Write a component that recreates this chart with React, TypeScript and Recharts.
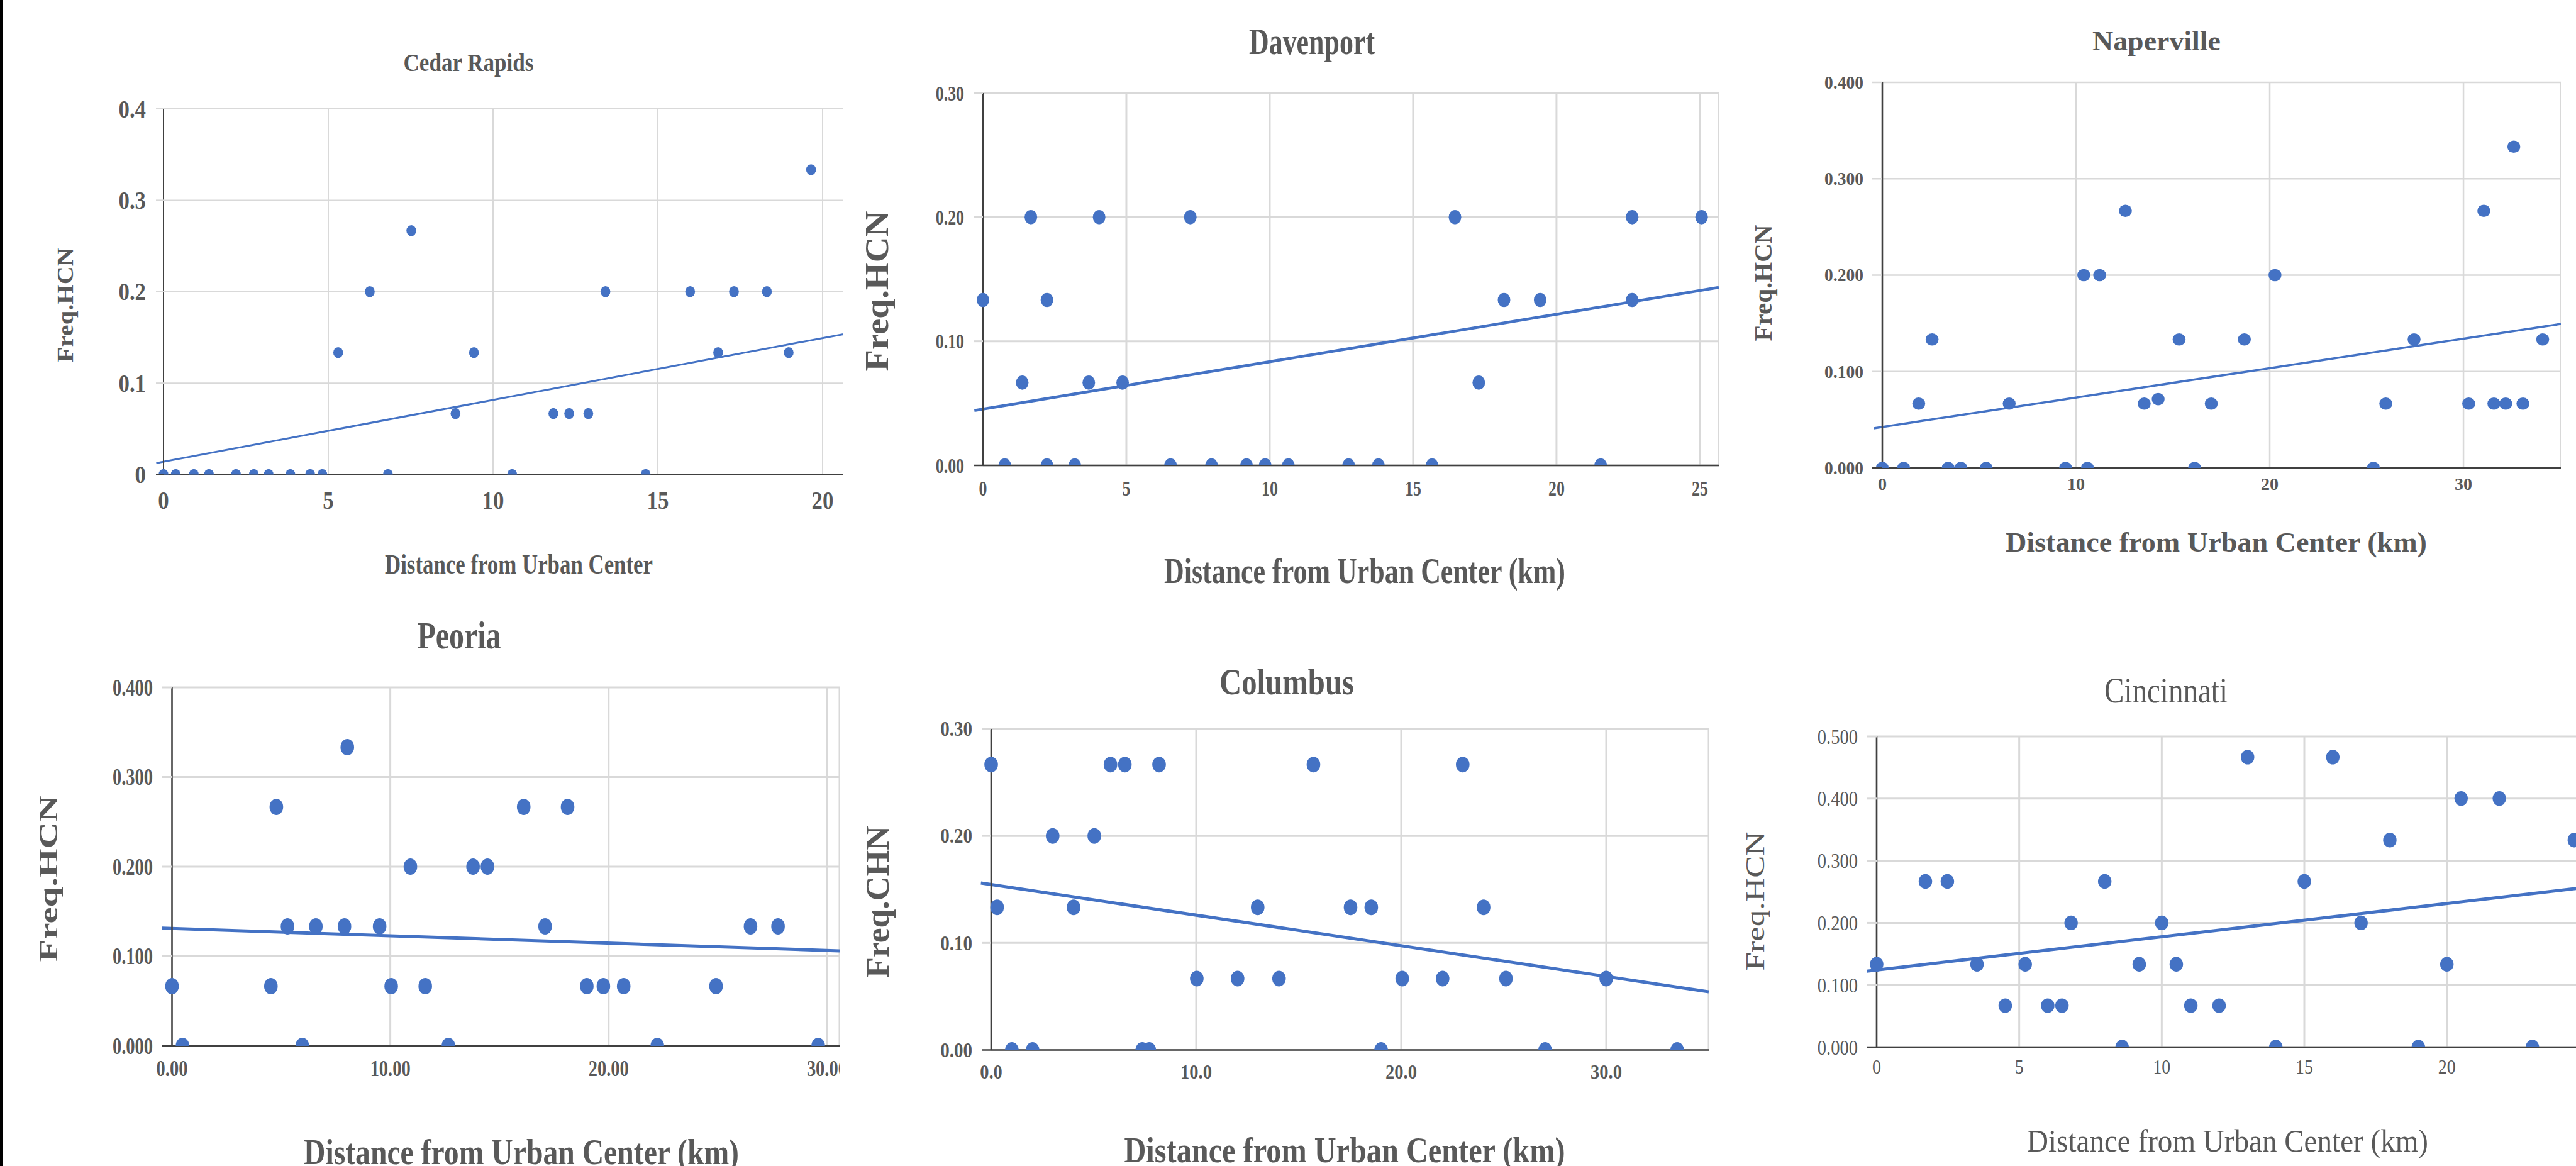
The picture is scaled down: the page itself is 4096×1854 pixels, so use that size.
import React from 'react';
import { ScatterChart, Scatter, XAxis, YAxis, CartesianGrid, ReferenceLine } from 'recharts';

// ---------------- DATA ----------------
const cedarDist = [0, 0.37, 0.92, 1.38, 2.2, 2.74, 3.19, 3.85, 4.45, 4.82, 5.3, 6.26, 6.81, 7.52, 8.86, 9.42, 10.58, 11.83, 12.31, 12.89, 13.41, 14.63, 15.98, 16.83, 17.31, 18.31, 18.97, 19.65];
const cedarFreq = [0, 0, 0, 0, 0, 0, 0, 0, 0, 0, 0.1333, 0.2, 0, 0.2667, 0.0667, 0.1333, 0, 0.0667, 0.0667, 0.0667, 0.2, 0, 0.2, 0.1333, 0.2, 0.2, 0.1333, 0.3333];
const cedarTrend = [{ x: -0.22, y: 0.0125 }, { x: 20.63, y: 0.1535 }];
const cedarXTicks = [0, 5, 10, 15, 20];
const cedarXLabels = ['0', '5', '10', '15', '20'];
const cedarYTicks = [0, 0.1, 0.2, 0.3, 0.4];
const cedarYLabels = ['0', '0.1', '0.2', '0.3', '0.4'];

const davDist = [0, 0.76, 1.37, 1.67, 2.23, 2.23, 3.2, 3.69, 4.05, 4.87, 6.54, 7.23, 7.97, 9.19, 9.84, 10.65, 12.75, 13.79, 15.66, 16.46, 17.29, 18.17, 19.43, 21.54, 22.64, 22.64, 25.06];
const davFreq = [0.1333, 0, 0.0667, 0.2, 0.1333, 0, 0, 0.0667, 0.2, 0.0667, 0, 0.2, 0, 0, 0, 0, 0, 0, 0, 0.2, 0.0667, 0.1333, 0.1333, 0, 0.2, 0.1333, 0.2];
const davTrend = [{ x: -0.3, y: 0.0442 }, { x: 25.66, y: 0.1434 }];
const davXTicks = [0, 5, 10, 15, 20, 25];
const davXLabels = ['0', '5', '10', '15', '20', '25'];
const davYTicks = [0, 0.1, 0.2, 0.3];
const davYLabels = ['0.00', '0.10', '0.20', '0.30'];

const napDist = [0, 1.1, 1.88, 2.57, 3.4, 4.06, 5.36, 6.55, 9.46, 10.4, 10.59, 11.22, 12.55, 13.52, 14.24, 15.32, 16.12, 16.98, 18.69, 20.27, 25.35, 25.99, 27.45, 30.27, 31.05, 31.57, 32.18, 32.6, 33.07, 34.09];
const napFreq = [0, 0, 0.0667, 0.1333, 0, 0, 0, 0.0667, 0, 0.2, 0, 0.2, 0.2667, 0.0667, 0.0714, 0.1333, 0, 0.0667, 0.1333, 0.2, 0, 0.0667, 0.1333, 0.0667, 0.2667, 0.0667, 0.0667, 0.3333, 0.0667, 0.1333];
const napTrend = [{ x: -0.44, y: 0.0411 }, { x: 35.03, y: 0.1494 }];
const napXTicks = [0, 10, 20, 30];
const napXLabels = ['0', '10', '20', '30'];
const napYTicks = [0, 0.1, 0.2, 0.3, 0.4];
const napYLabels = ['0.000', '0.100', '0.200', '0.300', '0.400'];

const peoDist = [0, 0.48, 4.53, 4.78, 5.29, 5.97, 6.59, 7.9, 8.03, 9.51, 10.04, 10.92, 11.6, 12.66, 13.79, 14.45, 16.11, 17.09, 18.12, 19.0, 19.76, 20.69, 22.23, 24.92, 26.5, 27.76, 29.6];
const peoFreq = [0.0667, 0, 0.0667, 0.2667, 0.1333, 0, 0.1333, 0.1333, 0.3333, 0.1333, 0.0667, 0.2, 0.0667, 0, 0.2, 0.2, 0.2667, 0.1333, 0.2667, 0.0667, 0.0667, 0.0667, 0, 0.0667, 0.1333, 0.1333, 0];
const peoTrend = [{ x: -0.45, y: 0.1314 }, { x: 30.58, y: 0.106 }];
const peoXTicks = [0, 10, 20, 30];
const peoXLabels = ['0.00', '10.00', '20.00', '30.00'];
const peoYTicks = [0, 0.1, 0.2, 0.3, 0.4];
const peoYLabels = ['0.000', '0.100', '0.200', '0.300', '0.400'];

const colDist = [0, 0.29, 1.01, 2.02, 3.0, 4.02, 5.03, 5.82, 6.52, 7.37, 7.71, 8.19, 10.03, 12.02, 13.0, 14.04, 15.72, 17.53, 18.54, 19.02, 20.05, 22.02, 23.0, 24.02, 25.11, 27.02, 30.0, 33.46];
const colFreq = [0.2667, 0.1333, 0, 0, 0.2, 0.1333, 0.2, 0.2667, 0.2667, 0, 0, 0.2667, 0.0667, 0.0667, 0.1333, 0.0667, 0.2667, 0.1333, 0.1333, 0, 0.0667, 0.0667, 0.2667, 0.1333, 0.0667, 0, 0.0667, 0];
const colTrend = [{ x: -0.5, y: 0.156 }, { x: 35.0, y: 0.0544 }];
const colXTicks = [0, 10, 20, 30];
const colXLabels = ['0.0', '10.0', '20.0', '30.0'];
const colYTicks = [0, 0.1, 0.2, 0.3];
const colYLabels = ['0.00', '0.10', '0.20', '0.30'];

const cinDist = [0, 1.71, 2.48, 3.52, 4.51, 5.21, 6.0, 6.5, 6.82, 8.0, 8.61, 9.21, 10.0, 10.51, 11.02, 12.01, 13.01, 14.0, 15.0, 16.0, 16.99, 18.0, 19.0, 20.0, 20.5, 21.84, 23.0, 24.47];
const cinFreq = [0.1333, 0.2667, 0.2667, 0.1333, 0.0667, 0.1333, 0.0667, 0.0667, 0.2, 0.2667, 0, 0.1333, 0.2, 0.1333, 0.0667, 0.0667, 0.4667, 0, 0.2667, 0.4667, 0.2, 0.3333, 0, 0.1333, 0.4, 0.4, 0, 0.3333];
const cinTrend = [{ x: -0.34, y: 0.1223 }, { x: 25.5, y: 0.2605 }];
const cinXTicks = [0, 5, 10, 15, 20];
const cinXLabels = ['0', '5', '10', '15', '20'];
const cinYTicks = [0, 0.1, 0.2, 0.3, 0.4, 0.5];
const cinYLabels = ['0.000', '0.100', '0.200', '0.300', '0.400', '0.500'];

// ---------------- STYLE ----------------
const BLUE = '#4472C4';
const GRID = '#D9D9D9';
const AXIS = '#404040';
const TEXT = '#595959';
const SERIF = '"Liberation Serif", "Times New Roman", Times, serif';

type Pt = { x: number; y: number };
const zip = (xs: number[], ys: number[]): Pt[] => xs.map((x, i) => ({ x, y: ys[i] }));

type HText = { text: string; cx: number; base: number; size: number; width: number };
type VText = { text: string; capTop: number; cy: number; size: number; length: number };

type Panel = {
  points: Pt[];
  trend: Pt[];
  xTicks: number[]; xLabels: string[];
  yTicks: number[]; yLabels: string[];
  xMax: number; yMax: number;
  clip: { left: number; top: number; width: number; height: number };
  plot: { left: number; top: number; right: number; bottom: number };
  ext: number;
  weight: number;
  yFont: number; yScale: number; yRight: number;
  xFont: number; xScale: number; xTop: number;
  rx: number; ry: number;
  trendW: number; axisW: number; gridW: number;
  title: HText; xTitle: HText; yTitle: VText;
};

const panels: Panel[] = [
  {
    points: zip(cedarDist, cedarFreq), trend: cedarTrend,
    xTicks: cedarXTicks, xLabels: cedarXLabels, yTicks: cedarYTicks, yLabels: cedarYLabels,
    xMax: 20.63, yMax: 0.4,
    clip: { left: 6, top: 0, width: 1344, height: 950 },
    plot: { left: 260, top: 173, right: 1341, bottom: 754.5 },
    ext: 12, weight: 700,
    yFont: 40, yScale: 0.87, yRight: 232,
    xFont: 40, xScale: 0.87, xTop: 782,
    rx: 7.8, ry: 8.7, trendW: 3, axisW: 2, gridW: 2,
    title: { text: 'Cedar Rapids', cx: 745, base: 113, size: 40, width: 207 },
    xTitle: { text: 'Distance from Urban Center', cx: 825, base: 912, size: 45, width: 426 },
    yTitle: { text: 'Freq.HCN', capTop: 92, cy: 485, size: 36, length: 182 },
  },
  {
    points: zip(davDist, davFreq), trend: davTrend,
    xTicks: davXTicks, xLabels: davXLabels, yTicks: davYTicks, yLabels: davYLabels,
    xMax: 25.66, yMax: 0.3,
    clip: { left: 1350, top: 0, width: 1400, height: 950 },
    plot: { left: 1563, top: 148, right: 2733, bottom: 740 },
    ext: 15, weight: 700,
    yFont: 34, yScale: 0.76, yRight: 1533,
    xFont: 34, xScale: 0.76, xTop: 765,
    rx: 10, ry: 11.3, trendW: 4.5, axisW: 2.5, gridW: 3,
    title: { text: 'Davenport', cx: 2086, base: 86, size: 60, width: 200 },
    xTitle: { text: 'Distance from Urban Center (km)', cx: 2170, base: 927, size: 58, width: 638 },
    yTitle: { text: 'Freq.HCN', capTop: 1378, cy: 463, size: 52, length: 255 },
  },
  {
    points: zip(napDist, napFreq), trend: napTrend,
    xTicks: napXTicks, xLabels: napXLabels, yTicks: napYTicks, yLabels: napYLabels,
    xMax: 35.03, yMax: 0.4,
    clip: { left: 2760, top: 0, width: 1336, height: 950 },
    plot: { left: 2993, top: 131, right: 4072, bottom: 744 },
    ext: 16, weight: 700,
    yFont: 29, yScale: 0.95, yRight: 2963,
    xFont: 28, xScale: 1.0, xTop: 760,
    rx: 10.3, ry: 9.8, trendW: 3.5, axisW: 2.5, gridW: 2.5,
    title: { text: 'Naperville', cx: 3429, base: 80, size: 44, width: 204 },
    xTitle: { text: 'Distance from Urban Center (km)', cx: 3524, base: 877, size: 44, width: 670 },
    yTitle: { text: 'Freq.HCN', capTop: 2790, cy: 450, size: 41, length: 185 },
  },
  {
    points: zip(peoDist, peoFreq), trend: peoTrend,
    xTicks: peoXTicks, xLabels: peoXLabels, yTicks: peoYTicks, yLabels: peoYLabels,
    xMax: 30.58, yMax: 0.4,
    clip: { left: 6, top: 950, width: 1330, height: 904 },
    plot: { left: 273.5, top: 1093, right: 1335, bottom: 1663 },
    ext: 16, weight: 700,
    yFont: 38, yScale: 0.75, yRight: 243,
    xFont: 36, xScale: 0.79, xTop: 1687,
    rx: 10.8, ry: 13, trendW: 5, axisW: 2.5, gridW: 3,
    title: { text: 'Peoria', cx: 730, base: 1031, size: 62, width: 133 },
    xTitle: { text: 'Distance from Urban Center (km)', cx: 829, base: 1851, size: 58, width: 692 },
    yTitle: { text: 'Freq.HCN', capTop: 63, cy: 1397, size: 42, length: 265 },
  },
  {
    points: zip(colDist, colFreq), trend: colTrend,
    xTicks: colXTicks, xLabels: colXLabels, yTicks: colYTicks, yLabels: colYLabels,
    xMax: 35.0, yMax: 0.3,
    clip: { left: 1350, top: 950, width: 1390, height: 904 },
    plot: { left: 1576, top: 1159, right: 2717, bottom: 1669.5 },
    ext: 14, weight: 700,
    yFont: 33, yScale: 0.88, yRight: 1546,
    xFont: 32, xScale: 0.89, xTop: 1693,
    rx: 10.8, ry: 12.5, trendW: 5, axisW: 2.5, gridW: 3,
    title: { text: 'Columbus', cx: 2046, base: 1104, size: 59, width: 214 },
    xTitle: { text: 'Distance from Urban Center (km)', cx: 2138, base: 1848, size: 58, width: 701 },
    yTitle: { text: 'Freq.CHN', capTop: 1378, cy: 1434, size: 53, length: 242 },
  },
  {
    points: zip(cinDist, cinFreq), trend: cinTrend,
    xTicks: cinXTicks, xLabels: cinXLabels, yTicks: cinYTicks, yLabels: cinYLabels,
    xMax: 25.5, yMax: 0.5,
    clip: { left: 2760, top: 950, width: 1336, height: 904 },
    plot: { left: 2984, top: 1171, right: 4140, bottom: 1665 },
    ext: 15, weight: 400,
    yFont: 34, yScale: 0.84, yRight: 2954,
    xFont: 31, xScale: 0.9, xTop: 1686,
    rx: 10.7, ry: 11.7, trendW: 5, axisW: 2.5, gridW: 3,
    title: { text: 'Cincinnati', cx: 3444, base: 1117, size: 57, width: 196 },
    xTitle: { text: 'Distance from Urban Center (km)', cx: 3542, base: 1831, size: 51, width: 638 },
    yTitle: { text: 'Freq.HCN', capTop: 2777, cy: 1433, size: 43, length: 221 },
  },
];

const labelFor = (ticks: number[], labels: string[], v: number) => {
  const i = ticks.findIndex((t) => Math.abs(t - v) < 1e-9);
  return i >= 0 ? labels[i] : String(v);
};

function ChartPanel({ c }: { c: Panel }) {
  const W = c.plot.right - c.clip.left;
  const plotTop = c.plot.top - c.clip.top;
  const plotBottom = c.plot.bottom - c.clip.top;
  const XH = 130;
  const H = plotBottom + XH;
  const yAxisW = c.plot.left - c.clip.left;
  const axisX = yAxisW;

  const dotShape = (props: any) => {
    const { cx, cy } = props;
    if (cx == null || cy == null) return <g />;
    const yv = props.payload ? props.payload.y : props.y;
    if (yv === 0) {
      return (
        <path
          d={`M${cx - c.rx},${cy} A${c.rx},${c.ry} 0 0 1 ${cx + c.rx},${cy} Z`}
          fill={BLUE}
        />
      );
    }
    return <ellipse cx={cx} cy={cy} rx={c.rx} ry={c.ry} fill={BLUE} />;
  };

  const yTick = (props: any) => {
    const { y, payload } = props;
    const v = payload.value;
    const isZero = Math.abs(v) < 1e-9;
    return (
      <g>
        <line
          x1={axisX - c.ext}
          x2={axisX}
          y1={y}
          y2={y}
          stroke={isZero ? AXIS : GRID}
          strokeWidth={isZero ? c.axisW : c.gridW}
        />
        <text
          transform={`translate(${c.yRight - c.clip.left},${y + 0.34 * c.yFont}) scale(${c.yScale},1)`}
          textAnchor="end"
          fontFamily={SERIF}
          fontWeight={c.weight}
          fontSize={c.yFont}
          fill={TEXT}
        >
          {labelFor(c.yTicks, c.yLabels, v)}
        </text>
      </g>
    );
  };

  const xTick = (props: any) => {
    const { x, payload } = props;
    const base = c.xTop - c.clip.top + 0.676 * c.xFont;
    return (
      <text
        transform={`translate(${x},${base}) scale(${c.xScale},1)`}
        textAnchor="middle"
        fontFamily={SERIF}
        fontWeight={c.weight}
        fontSize={c.xFont}
        fill={TEXT}
      >
        {labelFor(c.xTicks, c.xLabels, payload.value)}
      </text>
    );
  };

  return (
    <div
      style={{
        position: 'absolute',
        left: c.clip.left,
        top: c.clip.top,
        width: c.clip.width,
        height: c.clip.height,
        overflow: 'hidden',
      }}
    >
      <ScatterChart width={W} height={H} margin={{ top: plotTop, right: 0, bottom: 0, left: 0 }}>
        <CartesianGrid stroke={GRID} strokeWidth={c.gridW} />
        <XAxis
          type="number"
          dataKey="x"
          domain={[0, c.xMax]}
          ticks={c.xTicks}
          interval={0}
          height={XH}
          tickLine={false}
          axisLine={{ stroke: AXIS, strokeWidth: c.axisW }}
          tick={xTick}
        />
        <YAxis
          type="number"
          dataKey="y"
          domain={[0, c.yMax]}
          ticks={c.yTicks}
          interval={0}
          width={yAxisW}
          tickLine={false}
          axisLine={{ stroke: AXIS, strokeWidth: c.axisW }}
          tick={yTick}
        />
        <Scatter data={c.points} fill={BLUE} shape={dotShape} isAnimationActive={false} />
        <ReferenceLine
          segment={[c.trend[0], c.trend[1]]}
          stroke={BLUE}
          strokeWidth={c.trendW}
          ifOverflow="visible"
        />
      </ScatterChart>
    </div>
  );
}

function Titles() {
  return (
    <svg
      width={4096}
      height={1854}
      style={{ position: 'absolute', left: 0, top: 0, pointerEvents: 'none' }}
    >
      {panels.map((c, i) => (
        <g key={i} fontFamily={SERIF} fontWeight={c.weight} fill={TEXT}>
          {[c.title, c.xTitle].map((t, j) => (
            <text
              key={j}
              x={t.cx}
              y={t.base}
              fontSize={t.size}
              textAnchor="middle"
              textLength={t.width}
              lengthAdjust="spacingAndGlyphs"
            >
              {t.text}
            </text>
          ))}
          <text
            transform={`translate(${c.yTitle.capTop + 0.662 * c.yTitle.size},${c.yTitle.cy}) rotate(-90)`}
            x={0}
            y={0}
            fontSize={c.yTitle.size}
            textAnchor="middle"
            textLength={c.yTitle.length}
            lengthAdjust="spacingAndGlyphs"
          >
            {c.yTitle.text}
          </text>
        </g>
      ))}
    </svg>
  );
}

export default function App() {
  return (
    <div
      style={{
        position: 'absolute',
        left: 0,
        top: 0,
        width: 4096,
        height: 1854,
        background: '#ffffff',
        overflow: 'hidden',
      }}
    >
      <div style={{ position: 'absolute', left: 0, top: 0, width: 5, height: 1854, background: '#000' }} />
      {panels.map((c, i) => (
        <ChartPanel key={i} c={c} />
      ))}
      <Titles />
    </div>
  );
}
